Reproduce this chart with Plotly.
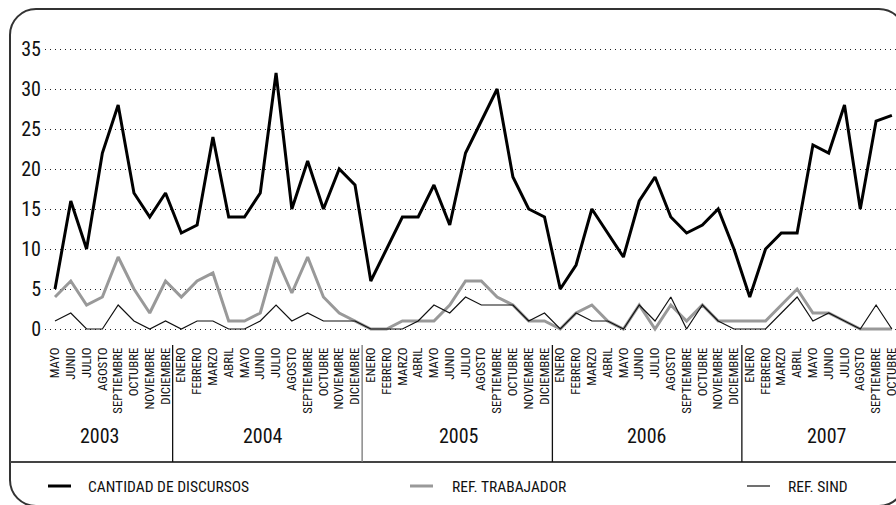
import plotly.graph_objects as go

months = ["MAYO","JUNIO","JULIO","AGOSTO","SEPTIEMBRE","OCTUBRE","NOVIEMBRE","DICIEMBRE"] + \
    ["ENERO","FEBRERO","MARZO","ABRIL","MAYO","JUNIO","JULIO","AGOSTO","SEPTIEMBRE","OCTUBRE","NOVIEMBRE","DICIEMBRE"] * 3 + \
    ["ENERO","FEBRERO","MARZO","ABRIL","MAYO","JUNIO","JULIO","AGOSTO","SEPTIEMBRE","OCTUBRE"]

years = ["2003", "2004", "2005", "2006", "2007"]
year_centers = [2.85, 13.2, 25.6, 37.5, 48.9]
year_dividers = [7.45, 19.45, 31.5, 43.5]

discursos = [5, 16, 10, 22, 28, 17, 14, 17,
             12, 13, 24, 14, 14, 17, 32, 15, 21, 15, 20, 18,
             6, 10, 14, 14, 18, 13, 22, 26, 30, 19, 15, 14,
             5, 8, 15, 12, 9, 16, 19, 14, 12, 13, 15, 10,
             4, 10, 12, 12, 23, 22, 28, 15, 26, 26.7]

trabajador = [4, 6, 3, 4, 9, 5, 2, 6,
              4, 6, 7, 1, 1, 2, 9, 4.5, 9, 4, 2, 1,
              0, 0, 1, 1, 1, 3, 6, 6, 4, 3, 1, 1,
              0, 2, 3, 1, 0, 3, 0, 3, 1, 3, 1, 1,
              1, 1, 3, 5, 2, 2, 1, 0, 0, 0]

sind = [1, 2, 0, 0, 3, 1, 0, 1,
        0, 1, 1, 0, 0, 1, 3, 1, 2, 1, 1, 1,
        0, 0, 0, 1, 3, 2, 4, 3, 3, 3, 1, 2,
        0, 2, 1, 1, 0, 3, 1, 4, 0, 3, 1, 0,
        0, 0, 2, 4, 1, 2, 1, 0, 3, 0]

legend_names = ["CANTIDAD DE DISCURSOS", "REF. TRABAJADOR", "REF. SIND"]

FONT = "Roboto Condensed, DejaVu Sans Condensed, sans-serif"
W, H = 896, 505
L, R, T = 45, 0, 33
B = H - 337
PW = W - L - R
PH = H - T - B

def px(x):  # screen pixel -> paper x
    return (x - L) / PW

def py(y):  # screen pixel -> paper y
    return (H - B - y) / PH

idx = list(range(len(months)))

fig = go.Figure()
fig.add_trace(go.Scatter(x=idx, y=trabajador, mode="lines", line=dict(color="#999999", width=3), name=legend_names[1], showlegend=False))
fig.add_trace(go.Scatter(x=idx, y=sind, mode="lines", line=dict(color="#111111", width=1.2), name=legend_names[2], showlegend=False))
fig.add_trace(go.Scatter(x=idx, y=discursos, mode="lines", line=dict(color="#000000", width=3), name=legend_names[0], showlegend=False))

shapes = []
x0, y0, x1, y1, r = 10, 9, 905, 506, 26
k = 0.5523 * r
pts = [("M", [(x0, y0 + r)]),
       ("C", [(x0, y0 + r - k), (x0 + r - k, y0), (x0 + r, y0)]),
       ("L", [(x1 - r, y0)]),
       ("C", [(x1 - r + k, y0), (x1, y0 + r - k), (x1, y0 + r)]),
       ("L", [(x1, y1 - r)]),
       ("C", [(x1, y1 - r + k), (x1 - r + k, y1), (x1 - r, y1)]),
       ("L", [(x0 + r, y1)]),
       ("C", [(x0 + r - k, y1), (x0, y1 - r + k), (x0, y1 - r)])]
path = ""
for cmd, ps in pts:
    path += cmd + " " + " ".join(f"{px(a):.5f},{py(b):.5f}" for a, b in ps) + " "
path += "Z"
shapes.append(dict(type="path", xref="paper", yref="paper", path=path, line=dict(color="#333333", width=2), layer="above"))
shapes.append(dict(type="line", xref="paper", yref="paper", x0=px(10), x1=px(905), y0=py(462), y1=py(462), line=dict(color="#444444", width=2)))
for i, d in enumerate(year_dividers):
    shapes.append(dict(type="line", xref="x", yref="paper", x0=d, x1=d, y0=py(345), y1=py(462),
                       line=dict(color="#777777" if i == 1 else "#111111", width=1.3)))
leg_styles = [(48, 71, "#000000", 3), (410, 433, "#999999", 3), (747, 770, "#111111", 1.2)]
for a, b, c, w in leg_styles:
    shapes.append(dict(type="line", xref="paper", yref="paper", x0=px(a), x1=px(b), y0=py(486), y1=py(486), line=dict(color=c, width=w)))

annotations = []
for yr, c in zip(years, year_centers):
    annotations.append(dict(x=c, y=py(436), xref="x", yref="paper", text=yr, showarrow=False,
                            font=dict(family=FONT, size=20, color="#111111"), xanchor="center", yanchor="middle"))
for name, xx in zip(legend_names, [86, 450, 786]):
    annotations.append(dict(x=px(xx), y=py(487), xref="paper", yref="paper", text=name, showarrow=False,
                            font=dict(family=FONT, size=15.5, color="#111111"), xanchor="left", yanchor="middle"))

fig.update_layout(
    width=W, height=H,
    margin=dict(l=L, r=R, t=T, b=B, pad=0, autoexpand=False),
    paper_bgcolor="white", plot_bgcolor="white",
    showlegend=False,
    shapes=shapes, annotations=annotations,
    font=dict(family=FONT, color="#111111"),
)
x_left = (L - 55) / 15.79
x_right = x_left + PW / 15.79
fig.update_xaxes(range=[x_left, x_right], tickmode="array", tickvals=idx, ticktext=months, tickangle=-90,
                 tickfont=dict(family=FONT, size=12.8, color="#111111"), showgrid=False, zeroline=False,
                 showline=False, ticks="", ticklabelstandoff=7, automargin=False, ticklabeloverflow="allow")
fig.update_yaxes(range=[-1, 37], tickmode="array", tickvals=[0, 5, 10, 15, 20, 25, 30, 35],
                 tickfont=dict(family=FONT, size=20, color="#111111"), showgrid=True, gridcolor="#222222",
                 gridwidth=1, griddash="1px,4px", zeroline=False, showline=False, ticks="", ticklabelstandoff=3,
                 automargin=False)

post = ("document.documentElement.style.overflow='hidden';"
        "document.body.style.overflow='hidden';"
        "document.body.style.margin='0';")
fig.write_html("out.html", post_script=post, config={"displayModeBar": False})
